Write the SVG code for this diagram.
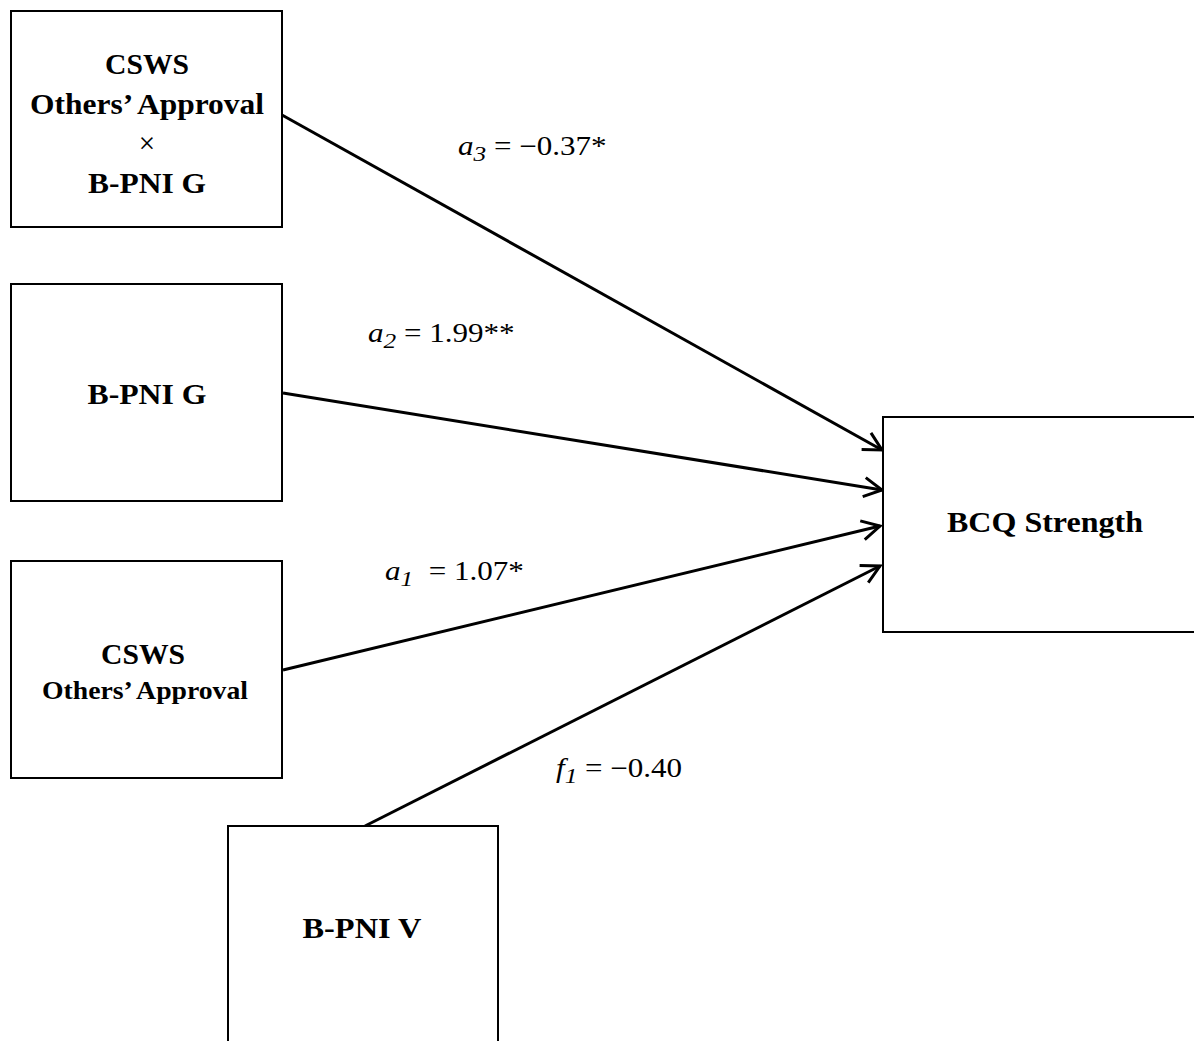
<svg xmlns="http://www.w3.org/2000/svg" width="1194" height="1041" viewBox="0 0 1194 1041">
  <style>
    .box { fill: #ffffff; stroke: #000000; stroke-width: 2; }
    .lbl { font-family: "Liberation Serif", "Times New Roman", serif; font-weight: bold; font-size: 29px; fill: #000000; text-anchor: middle; }
    .coef { font-family: "Liberation Serif", "Times New Roman", serif; font-size: 27px; fill: #000000; }
    .it { font-style: italic; }
    .sub { font-style: italic; font-size: 22px; }
    .edge { stroke: #000000; stroke-width: 3; fill: none; marker-end: url(#arrow); }
  </style>
  <defs>
    <marker id="arrow" markerWidth="8" markerHeight="8" refX="6.5" refY="4" orient="auto" markerUnits="strokeWidth">
      <path d="M0.5,0.8 L6.5,4 L0.5,7.2" fill="none" stroke="#000000" stroke-width="1"/>
    </marker>
  </defs>

  <rect x="0" y="0" width="1194" height="1041" fill="#ffffff"/>

  <g id="connectors">
    <line class="edge" x1="282" y1="115" x2="882" y2="450"/>
    <line class="edge" x1="283" y1="393" x2="882" y2="490"/>
    <line class="edge" x1="283" y1="670" x2="880" y2="526"/>
    <line class="edge" x1="365" y1="826" x2="880" y2="566"/>
  </g>

  <g id="node-interaction">
    <rect class="box" x="11" y="11" width="271" height="216"/>
    <text class="lbl" x="147" y="74" textLength="84" lengthAdjust="spacingAndGlyphs">CSWS</text>
    <text class="lbl" x="147" y="114" textLength="234" lengthAdjust="spacingAndGlyphs">Others’ Approval</text>
    <text class="lbl" x="147" y="153" style="font-weight:normal">×</text>
    <text class="lbl" x="147" y="193" textLength="118" lengthAdjust="spacingAndGlyphs">B-PNI G</text>
  </g>

  <g id="node-bpni-g">
    <rect class="box" x="11" y="284" width="271" height="217"/>
    <text class="lbl" x="147" y="404" textLength="119" lengthAdjust="spacingAndGlyphs">B-PNI G</text>
  </g>

  <g id="node-csws">
    <rect class="box" x="11" y="561" width="271" height="217"/>
    <text class="lbl" x="143" y="664" textLength="84" lengthAdjust="spacingAndGlyphs">CSWS</text>
    <text class="lbl" x="145" y="699" style="font-size:25px" textLength="206" lengthAdjust="spacingAndGlyphs">Others’ Approval</text>
  </g>

  <g id="node-bpni-v">
    <rect class="box" x="228" y="826" width="270" height="230"/>
    <text class="lbl" x="362" y="938" textLength="119" lengthAdjust="spacingAndGlyphs">B-PNI V</text>
  </g>

  <g id="node-bcq">
    <rect class="box" x="883" y="417" width="320" height="215"/>
    <text class="lbl" x="1045" y="532" textLength="196" lengthAdjust="spacingAndGlyphs">BCQ Strength</text>
  </g>

  <g id="coefficients">
    <text class="coef" transform="translate(458,155) scale(1.15,1)"><tspan class="it">a</tspan><tspan class="sub" dy="6">3</tspan><tspan dy="-6"> = −0.37*</tspan></text>
    <text class="coef" transform="translate(368,342) scale(1.15,1)"><tspan class="it">a</tspan><tspan class="sub" dy="6">2</tspan><tspan dy="-6"> = 1.99**</tspan></text>
    <text class="coef" transform="translate(385,580) scale(1.15,1)"><tspan class="it">a</tspan><tspan class="sub" dy="6">1</tspan><tspan dy="-6" xml:space="preserve">  = 1.07*</tspan></text>
    <text class="coef" transform="translate(556,777) scale(1.15,1)"><tspan class="it">f</tspan><tspan class="sub" dy="6">1</tspan><tspan dy="-6"> = −0.40</tspan></text>
  </g>
</svg>
